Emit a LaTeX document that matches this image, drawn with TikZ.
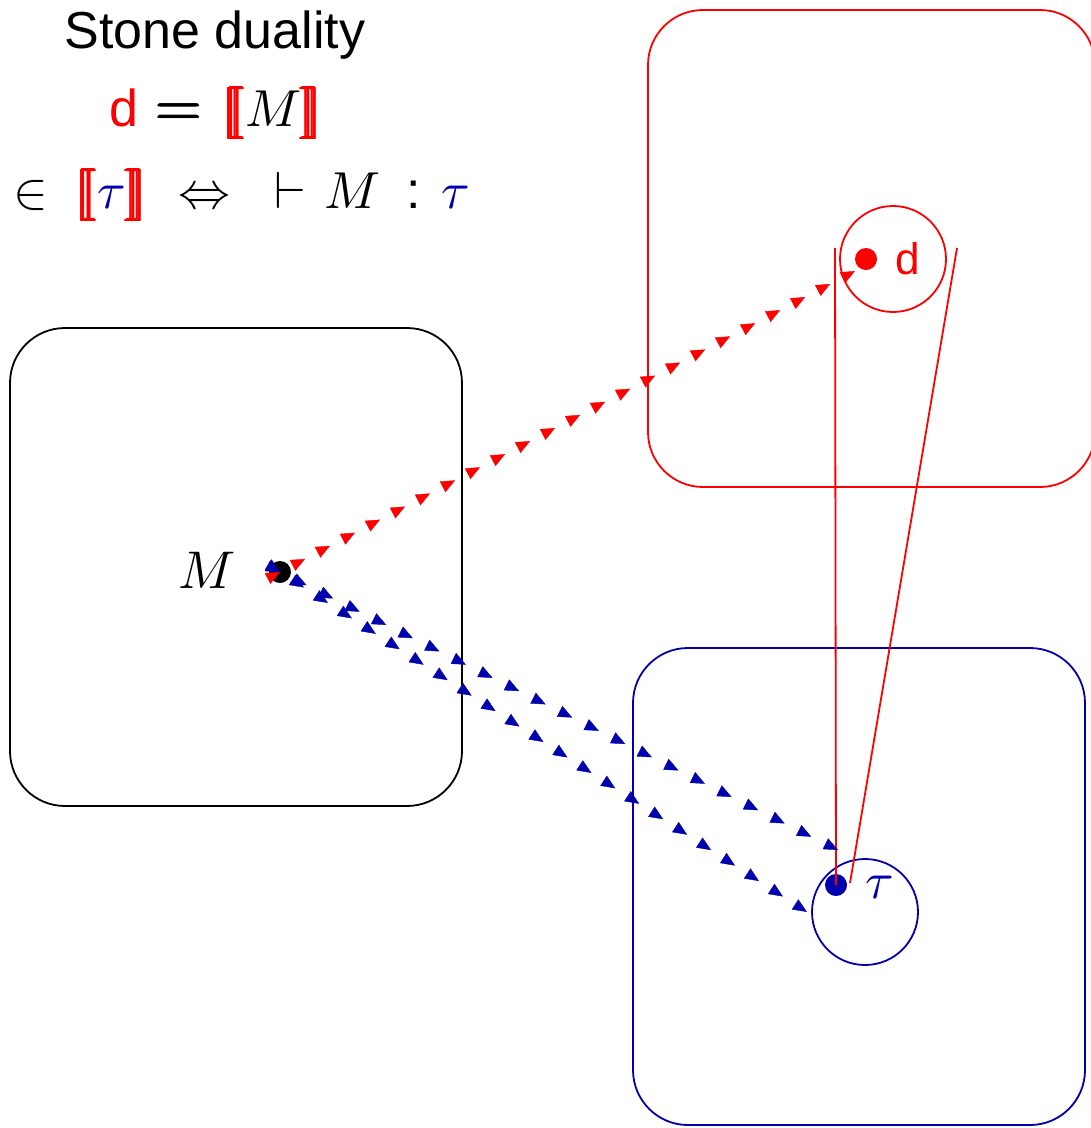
\documentclass[tikz,border=0pt]{standalone}
\usepackage{amsmath}
\usepackage{fontspec}
\setmainfont{Liberation Sans}
\usepackage{stmaryrd}
\usetikzlibrary{arrows.meta,decorations.markings}
\definecolor{dblue}{rgb}{0,0,0.68}
\newcommand{\lbb}{\textcolor{red}{$\pmb{\llbracket}$}}
\newcommand{\rbb}{\textcolor{red}{$\pmb{\rrbracket}$}}
\tikzset{
  rbox/.style={draw, line width=1.8pt, rounded corners=55pt, inner sep=0pt},
  ring/.style={draw, circle, line width=1.8pt, minimum size=106pt, inner sep=0pt},
  dot/.style={circle, fill, minimum size=22pt, inner sep=0pt},
  big/.style={scale=5.2, inner sep=0pt},
  trail/.style={decoration={markings,
      mark=between positions 0 and 0.97 step #1 with {\arrow{Triangle[length=14pt,width=12pt]}},
      mark=at position 1 with {\arrow{Triangle[length=14pt,width=12pt]}}}, postaction={decorate}},
  thinline/.style={draw=red, line width=1.8pt}
}
\begin{document}
\begin{tikzpicture}[x=1pt,y=-1pt]
\useasboundingbox (0,0) rectangle (1091,1128);
% boxes
\node[rbox, minimum width=452pt, minimum height=478pt] (boxM) at (236,567) {};
\node[rbox, draw=red, minimum width=447pt, minimum height=477pt] (boxD) at (871.5,248.5) {};
\node[rbox, draw=dblue, minimum width=452pt, minimum height=477pt] (boxT) at (859,886.5) {};
% circles
\node[ring, draw=red] (circD) at (893,259) {};
\node[ring, draw=dblue] (circT) at (865,912) {};
% dots
\node[dot, fill=black] (dotM) at (280,572) {};
\node[dot, fill=red] (dotD) at (866,259) {};
\node[dot, fill=dblue] (dotT) at (836,885) {};
% labels
\node[big, scale=1.02] (lM) at (207,570) {$M$};
\node[big, text=red, scale=0.85] (ld) at (908,259) {d};
\node[big, text=dblue] (lt) at (880,887) {$\tau$};
% title
\node[big] (title) at (215,35) {Stone duality};
\node[big] (eq1) at (216,113) {\textcolor{red}{d}\hspace{0.35em}\scalebox{1.15}{$\pmb{=}$}\hspace{0.4em}\lbb$M$\rbb};
\node[big] (eq2) at (242,195) {$\in$\hspace{0.55em}\lbb\textcolor{dblue}{$\tau$}\rbb\hspace{0.6em}$\Leftrightarrow$\hspace{0.85em}$\vdash$\hspace{0.35em}$M$\hspace{0.5em}:\hspace{0.4em}\textcolor{dblue}{$\tau$}};
% red funnel lines
\coordinate (fa) at (835,248);
\coordinate (fb) at (957,248);
\coordinate (fc) at (850,883);
\draw[thinline] (fa) -- (dotT.center);
\draw[thinline] (fb) -- (fc);
% arrow trails
\coordinate (endD) at (855,271);
\coordinate (endT) at (838,850);
\coordinate (endL) at (807,912);
\path[red, trail=0.0435] (dotM.center) -- (endD);
\path[dblue, trail=0.0476] (dotM.center) -- (endT);
\path[dblue, trail=0.04545] (dotM.center) -- (endL);
\end{tikzpicture}
\end{document}
